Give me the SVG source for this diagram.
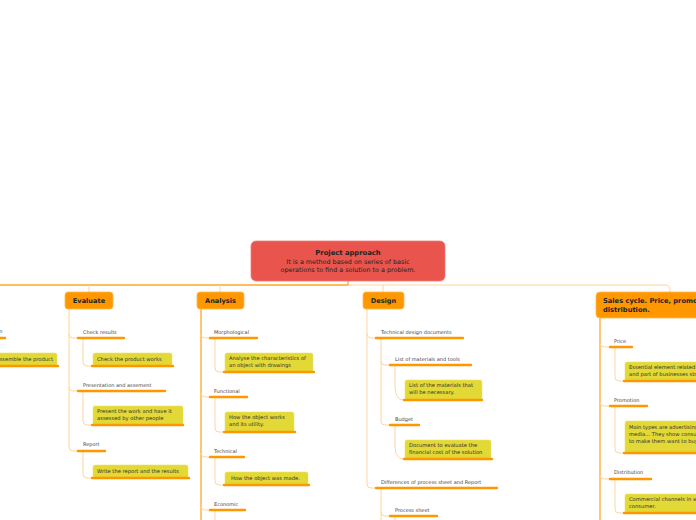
<svg xmlns="http://www.w3.org/2000/svg" width="696" height="520" viewBox="0 0 696 520">
<style>
text{font-family:"DejaVu Sans","Liberation Sans",sans-serif}
.topic{fill:#FF9800;stroke:#FFB74D;stroke-width:0.8}
.tt{font-size:6.6px;font-weight:bold;fill:#222}
.st{font-size:5px;fill:#444}
.box{fill:#E2D836;stroke:#EDE46A;stroke-width:0.6}
.bt{font-size:5.2px;fill:#333}
.ul{stroke:#FF9800;stroke-width:2.4;stroke-linecap:round;fill:none}
.lc{stroke:#FFD59E;stroke-width:1;fill:none}
.oc{stroke:#FFA726;stroke-width:1.3;fill:none}
</style>
<rect width="696" height="520" fill="#fff"/>
<g id="connectors">
<path class="oc" d="M0,285 H348 V281"/>
<path class="lc" d="M348,285 H665 Q670,285 670,290 V292"/>
<path class="lc" d="M89,285 V292"/>
<path class="lc" d="M220,285 V292"/>
<path class="lc" d="M383,285 V292"/>
<path class="lc" d="M69,309 V447 Q69,451 73,451 H78"/>
<path class="lc" d="M69,334 Q69,338 73,338 H78"/>
<path class="lc" d="M69,387 Q69,391 73,391 H78"/>
<path class="lc" d="M83,338 V362 Q83,366 87,366 H92"/>
<path class="lc" d="M83,391 V421 Q83,425 87,425 H92"/>
<path class="lc" d="M83,451 V474 Q83,478 87,478 H92"/>
<path class="oc" d="M201,309 V520"/>
<path class="lc" d="M201,334 Q201,338 205,338 H210"/>
<path class="lc" d="M201,393 Q201,397 205,397 H210"/>
<path class="lc" d="M201,453 Q201,457 205,457 H210"/>
<path class="lc" d="M201,506 Q201,510 205,510 H210"/>
<path class="lc" d="M215,338 V368 Q215,372 219,372 H224"/>
<path class="lc" d="M215,397 V428 Q215,432 219,432 H224"/>
<path class="lc" d="M215,457 V481 Q215,485 219,485 H224"/>
<path class="lc" d="M215,510 V520"/>
<path class="lc" d="M367,309 V484 Q367,488 371,488 H376"/>
<path class="lc" d="M367,334 Q367,338 371,338 H376"/>
<path class="lc" d="M381,338 V421 Q381,425 385,425 H390"/>
<path class="lc" d="M381,361 Q381,365 385,365 H390"/>
<path class="lc" d="M395,365 V386 Q395,400 404,400"/>
<path class="lc" d="M395,425 V446 Q395,459 404,459"/>
<path class="lc" d="M381,488 V520"/>
<path class="lc" d="M381,512 Q381,516 385,516 H390"/>
<path class="lc" d="M395,516 V520"/>
<path class="oc" d="M600,318 V520"/>
<path class="lc" d="M600,343 Q600,347 604,347 H610"/>
<path class="lc" d="M600,402 Q600,406 604,406 H610"/>
<path class="lc" d="M600,475 Q600,479 604,479 H610"/>
<path class="lc" d="M615,347 V377 Q615,381 619,381 H624"/>
<path class="lc" d="M615,406 V449 Q615,453 619,453 H624"/>
<path class="lc" d="M615,479 V509 Q615,513 619,513 H624"/>
</g>
<g id="root">
<rect x="251" y="241" width="194" height="40" rx="5" fill="#E9554C" stroke="#F07A72" stroke-width="0.8"/>
<text x="348" y="255" text-anchor="middle" font-size="6.8px" font-weight="bold" fill="#222">Project approach</text>
<text x="348" y="264" text-anchor="middle" font-size="6.4px" fill="#222">It is a method based on series of basic</text>
<text x="348" y="272" text-anchor="middle" font-size="6.4px" fill="#222">operations to find a solution to a problem.</text>
</g>
<g id="left-branch">
<text x="2.5" y="333" text-anchor="end" class="st">Construction</text>
<path class="ul" d="M-5,338 H5"/>
<rect x="-40" y="353" width="97" height="13" rx="2" class="box"/>
<text x="53" y="361" text-anchor="end" class="bt">Assemble the product</text>
<path class="ul" d="M-5,366 H58"/>
</g>
<g id="evaluate">
<rect x="65" y="292" width="48" height="17" rx="3" class="topic"/>
<text x="89" y="303" text-anchor="middle" class="tt">Evaluate</text>
</g>
<g id="check-results"><text x="83" y="334" class="st">Check results</text><path class="ul" d="M78,338 H124"/></g>
<g id="check-product"><rect x="93" y="353" width="79" height="13" rx="2" class="box"/><text x="97" y="361" class="bt">Check the product works</text><path class="ul" d="M92,366 H173"/></g>
<g id="presentation"><text x="83" y="387" class="st">Presentation and assement</text><path class="ul" d="M78,391 H165"/></g>
<g id="present-work"><rect x="93" y="406" width="90" height="19" rx="2" class="box"/><text x="97" y="413" class="bt">Present the work and have it</text><text x="97" y="420" class="bt">assessed by other people</text><path class="ul" d="M92,425 H183"/></g>
<g id="report"><text x="83" y="446" class="st">Report</text><path class="ul" d="M78,451 H105"/></g>
<g id="write-report"><rect x="93" y="465" width="95" height="13" rx="2" class="box"/><text x="97" y="473" class="bt">Write the report and the results</text><path class="ul" d="M92,478 H189"/></g>
<g id="analysis">
<rect x="197" y="292" width="47" height="17" rx="3" class="topic"/>
<text x="220.5" y="303" text-anchor="middle" class="tt">Analysis</text>
</g>
<g id="morphological"><text x="214" y="334" class="st">Morphological</text><path class="ul" d="M210,338 H257"/></g>
<g id="analyse-char"><rect x="225" y="353" width="88" height="19" rx="2" class="box"/><text x="229" y="360" class="bt">Analyse the characteristics of</text><text x="229" y="367" class="bt">an object with drawings</text><path class="ul" d="M224,372 H314"/></g>
<g id="functional"><text x="214" y="393" class="st">Functional</text><path class="ul" d="M210,397 H247"/></g>
<g id="how-works"><rect x="225" y="412" width="69" height="20" rx="2" class="box"/><text x="229" y="419" class="bt">How the object works</text><text x="229" y="426" class="bt">and its utility.</text><path class="ul" d="M224,432 H295"/></g>
<g id="technical"><text x="214" y="453" class="st">Technical</text><path class="ul" d="M210,457 H244"/></g>
<g id="how-made"><rect x="225" y="472" width="83" height="13" rx="2" class="box"/><text x="231" y="480" class="bt">How the object was made.</text><path class="ul" d="M224,485 H309"/></g>
<g id="economic"><text x="214" y="506" class="st">Economic</text><path class="ul" d="M210,510 H245"/></g>
<g id="design">
<rect x="363" y="292" width="41" height="17" rx="3" class="topic"/>
<text x="383.5" y="303" text-anchor="middle" class="tt">Design</text>
</g>
<g id="tech-docs"><text x="381" y="334" class="st">Technical design documents</text><path class="ul" d="M376,338 H463"/></g>
<g id="materials"><text x="395" y="361" class="st">List of materials and tools</text><path class="ul" d="M390,365 H471"/></g>
<g id="materials-list"><rect x="405" y="380" width="77" height="20" rx="2" class="box"/><text x="409" y="387" class="bt">List of the materials that</text><text x="409" y="394" class="bt">will be necessary.</text><path class="ul" d="M404,400 H482"/></g>
<g id="budget"><text x="395" y="421" class="st">Budget</text><path class="ul" d="M390,425 H419"/></g>
<g id="budget-doc"><rect x="405" y="440" width="86" height="19" rx="2" class="box"/><text x="409" y="447" class="bt">Document to evaluate the</text><text x="409" y="454" class="bt">financial cost of the solution</text><path class="ul" d="M404,459 H492"/></g>
<g id="differences"><text x="381" y="484" class="st">Differences of process sheet and Report</text><path class="ul" d="M376,488 H497"/></g>
<g id="process-sheet"><text x="395" y="512" class="st">Process sheet</text><path class="ul" d="M390,516 H437"/></g>
<g id="sales">
<rect x="596" y="292" width="120" height="26" rx="4" class="topic"/>
<text x="603" y="303" font-size="6.7px" font-weight="bold" fill="#222">Sales cycle. Price, promotion and</text>
<text x="603" y="312" font-size="6.7px" font-weight="bold" fill="#222">distribution.</text>
</g>
<g id="price"><text x="614" y="343" class="st">Price</text><path class="ul" d="M610,347 H632"/></g>
<g id="price-desc"><rect x="625" y="362" width="100" height="19" rx="2" class="box"/><text x="629" y="369" class="bt">Essential element related to the marketing mix</text><text x="629" y="376" class="bt">and part of businesses strategy.</text><path class="ul" d="M624,381 H700"/></g>
<g id="promotion"><text x="614" y="402" class="st">Promotion</text><path class="ul" d="M610,406 H647"/></g>
<g id="promotion-desc"><rect x="625" y="421" width="100" height="32" rx="2" class="box"/><text x="629" y="429" class="bt">Main types are advertising, social</text><text x="629" y="436" class="bt">media... They show consumers products</text><text x="629" y="443" class="bt">to make them want to buy them.</text><path class="ul" d="M624,453 H700"/></g>
<g id="distribution"><text x="614" y="474" class="st">Distribution</text><path class="ul" d="M610,479 H651"/></g>
<g id="distribution-desc"><rect x="625" y="494" width="100" height="19" rx="2" class="box"/><text x="629" y="501" class="bt">Commercial channels in which the product reaches the</text><text x="629" y="508" class="bt">consumer.</text><path class="ul" d="M624,513 H700"/></g>
</svg>
